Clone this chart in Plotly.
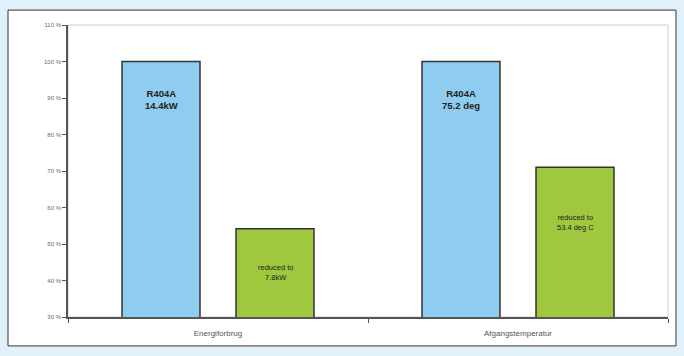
import plotly.graph_objects as go

categories = ["Energiforbrug", "Afgangstemperatur"]
r404a_values = [100, 100]
reduced_values = [54.2, 71.0]
r404a_labels = ["R404A<br>14.4kW", "R404A<br>75.2 deg"]
reduced_labels = ["reduced to<br>7.8kW", "reduced to<br>53.4 deg C"]
tick_vals = [30, 40, 50, 60, 70, 80, 90, 100, 110]
tick_text = ["30 %", "40 %", "50 %", "60 %", "70 %", "80 %", "90 %", "100 %", "110 %"]

fig = go.Figure()
fig.add_trace(go.Bar(x=categories, y=r404a_values, name="R404A",
                     marker=dict(color="#8ecdf0", line=dict(color="#333333", width=1.5))))
fig.add_trace(go.Bar(x=categories, y=reduced_values, name="Reduced",
                     marker=dict(color="#9fc83e", line=dict(color="#333333", width=1.5))))

annotations = []
for cat, v, t in zip(categories, r404a_values, r404a_labels):
    annotations.append(dict(x=cat, y=v, text="<b>" + t + "</b>", xref="x", yref="y",
                            xshift=-57, yshift=-38, showarrow=False,
                            font=dict(family="Liberation Sans", size=9.5, color="#222222")))
shifts = [-44, -55]
for cat, v, t, s in zip(categories, reduced_values, reduced_labels, shifts):
    annotations.append(dict(x=cat, y=v, text=t, xref="x", yref="y", xshift=57,
                            yshift=s, showarrow=False,
                            font=dict(family="Liberation Sans", size=7.5, color="#222222")))

fig.update_layout(
    width=684, height=356,
    margin=dict(l=68, r=16, t=25, b=39),
    paper_bgcolor="#e0f1fb",
    plot_bgcolor="white",
    showlegend=False,
    barmode="group",
    bargap=0.24,
    bargroupgap=0.316,
    annotations=annotations,
    font=dict(family="Liberation Sans", color="#444444"),
    shapes=[
        dict(type="rect", xref="paper", yref="paper", x0=-0.1, x1=1.0133,
             y0=-0.099, y1=1.051, fillcolor="white",
             line=dict(color="#333333", width=1), layer="below"),
        dict(type="rect", xref="paper", yref="paper", x0=0, x1=1, y0=0, y1=1,
             line=dict(color="#cccccc", width=1), layer="below"),
    ],
    xaxis=dict(showline=True, linecolor="#555555", linewidth=1.5,
               ticks="outside", tickson="boundaries", ticklen=4,
               tickcolor="#555555", showgrid=False, ticklabelstandoff=8,
               tickfont=dict(size=8, color="#555555")),
    yaxis=dict(range=[30, 110], tickvals=tick_vals, ticktext=tick_text,
               showline=True, linecolor="#555555", linewidth=1.5,
               ticks="outside", ticklen=4, tickcolor="#555555",
               showgrid=False, zeroline=False,
               tickfont=dict(size=6, color="#666666")),
)

fig.write_html("out.html")
